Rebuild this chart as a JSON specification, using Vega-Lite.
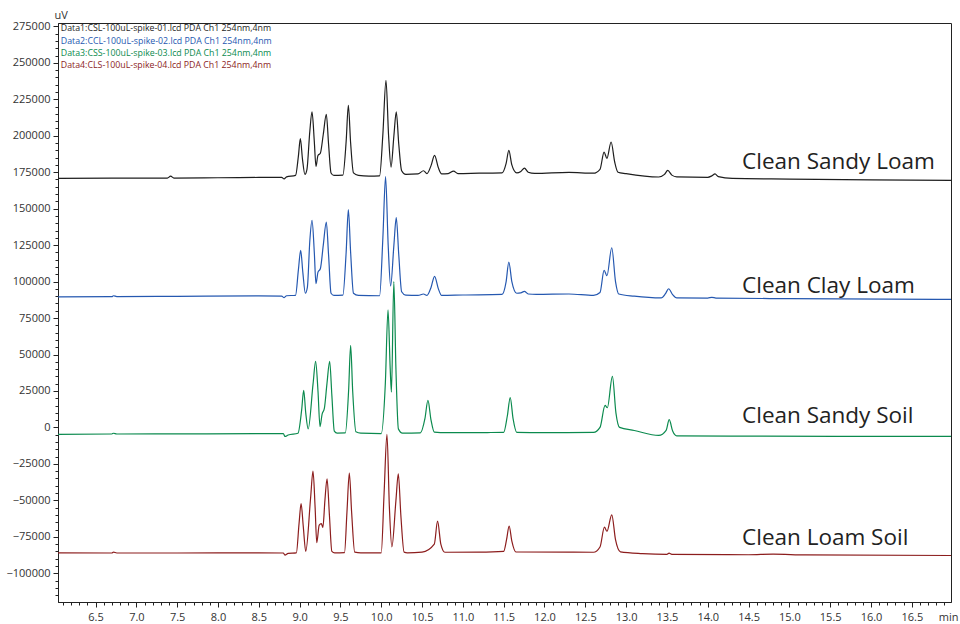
{
"$schema": "https://vega.github.io/schema/vega-lite/v6.json",
"width": 893, "height": 579,
"autosize": {"type": "none"},
"padding": {"left": 58, "top": 23, "right": 9, "bottom": 22},
"background": "white",
"config": {
  "view": {"stroke": "#222", "strokeWidth": 1},
  "font": "Open Sans",
  "axis": {"grid": false, "domainColor": "#222", "tickColor": "#222", "labelColor": "#333", "labelFont": "Open Sans", "labelFontSize": 11, "titleFont": "Open Sans", "titleFontWeight": "normal", "titleFontSize": 11, "titleColor": "#333"}
},
"datasets": {
  "traces": [
{"s":"Data1","t":6.04,"v":170800},{"s":"Data1","t":6.7,"v":170900},{"s":"Data1","t":7.38,"v":171000},{"s":"Data1","t":7.42,"v":172300},{"s":"Data1","t":7.46,"v":171000},{"s":"Data1","t":8.0,"v":171200},{"s":"Data1","t":8.5,"v":171400},{"s":"Data1","t":8.78,"v":171500},{"s":"Data1","t":8.81,"v":170400},{"s":"Data1","t":8.84,"v":171800},{"s":"Data1","t":8.95,"v":172800},{"s":"Data1","t":8.985,"v":186000},{"s":"Data1","t":9.009,"v":198000},{"s":"Data1","t":9.035,"v":184000},{"s":"Data1","t":9.065,"v":173500},{"s":"Data1","t":9.09,"v":177000},{"s":"Data1","t":9.125,"v":203000},{"s":"Data1","t":9.152,"v":216300},{"s":"Data1","t":9.18,"v":196000},{"s":"Data1","t":9.2,"v":179000},{"s":"Data1","t":9.225,"v":186500},{"s":"Data1","t":9.254,"v":188000},{"s":"Data1","t":9.29,"v":201000},{"s":"Data1","t":9.327,"v":214700},{"s":"Data1","t":9.355,"v":194000},{"s":"Data1","t":9.385,"v":174500},{"s":"Data1","t":9.42,"v":172800},{"s":"Data1","t":9.53,"v":173000},{"s":"Data1","t":9.57,"v":196000},{"s":"Data1","t":9.597,"v":220900},{"s":"Data1","t":9.625,"v":195000},{"s":"Data1","t":9.66,"v":174500},{"s":"Data1","t":9.72,"v":172800},{"s":"Data1","t":9.85,"v":172300},{"s":"Data1","t":9.98,"v":172500},{"s":"Data1","t":10.02,"v":201000},{"s":"Data1","t":10.058,"v":238000},{"s":"Data1","t":10.09,"v":200000},{"s":"Data1","t":10.12,"v":178500},{"s":"Data1","t":10.155,"v":200000},{"s":"Data1","t":10.184,"v":216300},{"s":"Data1","t":10.215,"v":194000},{"s":"Data1","t":10.25,"v":176000},{"s":"Data1","t":10.3,"v":173500},{"s":"Data1","t":10.45,"v":173800},{"s":"Data1","t":10.518,"v":176000},{"s":"Data1","t":10.56,"v":174000},{"s":"Data1","t":10.61,"v":179500},{"s":"Data1","t":10.653,"v":186600},{"s":"Data1","t":10.7,"v":178000},{"s":"Data1","t":10.74,"v":173800},{"s":"Data1","t":10.82,"v":174000},{"s":"Data1","t":10.886,"v":175800},{"s":"Data1","t":10.94,"v":174000},{"s":"Data1","t":11.2,"v":174300},{"s":"Data1","t":11.48,"v":174500},{"s":"Data1","t":11.53,"v":181000},{"s":"Data1","t":11.563,"v":190000},{"s":"Data1","t":11.6,"v":180000},{"s":"Data1","t":11.66,"v":174500},{"s":"Data1","t":11.71,"v":175500},{"s":"Data1","t":11.754,"v":177800},{"s":"Data1","t":11.8,"v":175000},{"s":"Data1","t":11.88,"v":174200},{"s":"Data1","t":12.3,"v":174900},{"s":"Data1","t":12.6,"v":174300},{"s":"Data1","t":12.68,"v":177000},{"s":"Data1","t":12.73,"v":188800},{"s":"Data1","t":12.765,"v":184500},{"s":"Data1","t":12.816,"v":195700},{"s":"Data1","t":12.86,"v":182000},{"s":"Data1","t":12.9,"v":175000},{"s":"Data1","t":13.0,"v":174000},{"s":"Data1","t":13.4,"v":171700},{"s":"Data1","t":13.47,"v":173500},{"s":"Data1","t":13.51,"v":176200},{"s":"Data1","t":13.56,"v":173000},{"s":"Data1","t":13.62,"v":171800},{"s":"Data1","t":14.0,"v":171500},{"s":"Data1","t":14.05,"v":172500},{"s":"Data1","t":14.089,"v":173800},{"s":"Data1","t":14.13,"v":172000},{"s":"Data1","t":14.3,"v":170700},{"s":"Data1","t":15.0,"v":170300},{"s":"Data1","t":16.0,"v":169800},{"s":"Data1","t":16.98,"v":169400},
{"s":"Data2","t":6.04,"v":89500},{"s":"Data2","t":6.7,"v":89700},{"s":"Data2","t":6.72,"v":90300},{"s":"Data2","t":6.76,"v":89700},{"s":"Data2","t":7.5,"v":89900},{"s":"Data2","t":8.5,"v":90200},{"s":"Data2","t":8.78,"v":90000},{"s":"Data2","t":8.81,"v":89000},{"s":"Data2","t":8.84,"v":90300},{"s":"Data2","t":8.95,"v":90600},{"s":"Data2","t":8.985,"v":108000},{"s":"Data2","t":9.013,"v":121400},{"s":"Data2","t":9.04,"v":106000},{"s":"Data2","t":9.07,"v":92000},{"s":"Data2","t":9.095,"v":96000},{"s":"Data2","t":9.125,"v":128000},{"s":"Data2","t":9.152,"v":142000},{"s":"Data2","t":9.18,"v":120000},{"s":"Data2","t":9.2,"v":98600},{"s":"Data2","t":9.225,"v":106500},{"s":"Data2","t":9.254,"v":108800},{"s":"Data2","t":9.29,"v":125000},{"s":"Data2","t":9.327,"v":140800},{"s":"Data2","t":9.355,"v":118000},{"s":"Data2","t":9.385,"v":92000},{"s":"Data2","t":9.42,"v":90500},{"s":"Data2","t":9.53,"v":90700},{"s":"Data2","t":9.57,"v":120000},{"s":"Data2","t":9.597,"v":149300},{"s":"Data2","t":9.625,"v":120000},{"s":"Data2","t":9.66,"v":92000},{"s":"Data2","t":9.72,"v":90500},{"s":"Data2","t":9.98,"v":90300},{"s":"Data2","t":10.02,"v":130000},{"s":"Data2","t":10.053,"v":172000},{"s":"Data2","t":10.085,"v":125000},{"s":"Data2","t":10.115,"v":97000},{"s":"Data2","t":10.155,"v":125000},{"s":"Data2","t":10.184,"v":143800},{"s":"Data2","t":10.215,"v":118000},{"s":"Data2","t":10.25,"v":93000},{"s":"Data2","t":10.3,"v":90700},{"s":"Data2","t":10.45,"v":90500},{"s":"Data2","t":10.518,"v":91500},{"s":"Data2","t":10.56,"v":90500},{"s":"Data2","t":10.61,"v":96000},{"s":"Data2","t":10.653,"v":103600},{"s":"Data2","t":10.7,"v":95000},{"s":"Data2","t":10.74,"v":90500},{"s":"Data2","t":11.0,"v":90800},{"s":"Data2","t":11.48,"v":91200},{"s":"Data2","t":11.53,"v":100000},{"s":"Data2","t":11.563,"v":113400},{"s":"Data2","t":11.6,"v":100000},{"s":"Data2","t":11.66,"v":92000},{"s":"Data2","t":11.71,"v":92300},{"s":"Data2","t":11.754,"v":93300},{"s":"Data2","t":11.8,"v":91500},{"s":"Data2","t":11.9,"v":91200},{"s":"Data2","t":12.3,"v":91500},{"s":"Data2","t":12.6,"v":90500},{"s":"Data2","t":12.68,"v":92500},{"s":"Data2","t":12.73,"v":107700},{"s":"Data2","t":12.765,"v":104000},{"s":"Data2","t":12.824,"v":123200},{"s":"Data2","t":12.87,"v":100000},{"s":"Data2","t":12.91,"v":91500},{"s":"Data2","t":13.1,"v":90000},{"s":"Data2","t":13.43,"v":88800},{"s":"Data2","t":13.48,"v":91500},{"s":"Data2","t":13.521,"v":95100},{"s":"Data2","t":13.57,"v":91000},{"s":"Data2","t":13.62,"v":88800},{"s":"Data2","t":14.0,"v":88700},{"s":"Data2","t":14.05,"v":89200},{"s":"Data2","t":14.1,"v":88700},{"s":"Data2","t":15.0,"v":88300},{"s":"Data2","t":16.98,"v":87800},
{"s":"Data3","t":6.04,"v":-4800},{"s":"Data3","t":6.7,"v":-4500},{"s":"Data3","t":6.72,"v":-4000},{"s":"Data3","t":6.76,"v":-4500},{"s":"Data3","t":7.5,"v":-4400},{"s":"Data3","t":8.5,"v":-4300},{"s":"Data3","t":8.8,"v":-4200},{"s":"Data3","t":8.82,"v":-6200},{"s":"Data3","t":8.86,"v":-5200},{"s":"Data3","t":8.98,"v":-4000},{"s":"Data3","t":9.025,"v":12000},{"s":"Data3","t":9.05,"v":25400},{"s":"Data3","t":9.075,"v":10000},{"s":"Data3","t":9.105,"v":-1000},{"s":"Data3","t":9.165,"v":30000},{"s":"Data3","t":9.196,"v":45300},{"s":"Data3","t":9.225,"v":25000},{"s":"Data3","t":9.25,"v":500},{"s":"Data3","t":9.275,"v":9000},{"s":"Data3","t":9.303,"v":13000},{"s":"Data3","t":9.335,"v":30000},{"s":"Data3","t":9.368,"v":45300},{"s":"Data3","t":9.395,"v":22000},{"s":"Data3","t":9.425,"v":-2500},{"s":"Data3","t":9.46,"v":-3900},{"s":"Data3","t":9.56,"v":-3800},{"s":"Data3","t":9.6,"v":25000},{"s":"Data3","t":9.625,"v":56200},{"s":"Data3","t":9.65,"v":25000},{"s":"Data3","t":9.69,"v":-3000},{"s":"Data3","t":9.75,"v":-3900},{"s":"Data3","t":10.0,"v":-4200},{"s":"Data3","t":10.05,"v":30000},{"s":"Data3","t":10.083,"v":80700},{"s":"Data3","t":10.11,"v":40000},{"s":"Data3","t":10.125,"v":24200},{"s":"Data3","t":10.154,"v":100000},{"s":"Data3","t":10.18,"v":40000},{"s":"Data3","t":10.21,"v":-1000},{"s":"Data3","t":10.26,"v":-3900},{"s":"Data3","t":10.48,"v":-3700},{"s":"Data3","t":10.535,"v":6000},{"s":"Data3","t":10.572,"v":18500},{"s":"Data3","t":10.61,"v":5000},{"s":"Data3","t":10.65,"v":-3200},{"s":"Data3","t":10.8,"v":-3600},{"s":"Data3","t":11.3,"v":-3500},{"s":"Data3","t":11.5,"v":-3400},{"s":"Data3","t":11.545,"v":8000},{"s":"Data3","t":11.58,"v":20400},{"s":"Data3","t":11.615,"v":6000},{"s":"Data3","t":11.66,"v":-3400},{"s":"Data3","t":12.0,"v":-3600},{"s":"Data3","t":12.6,"v":-3400},{"s":"Data3","t":12.68,"v":0},{"s":"Data3","t":12.742,"v":15100},{"s":"Data3","t":12.77,"v":13500},{"s":"Data3","t":12.832,"v":35000},{"s":"Data3","t":12.875,"v":10000},{"s":"Data3","t":12.92,"v":0},{"s":"Data3","t":13.1,"v":-2100},{"s":"Data3","t":13.4,"v":-5500},{"s":"Data3","t":13.49,"v":-2000},{"s":"Data3","t":13.528,"v":5300},{"s":"Data3","t":13.57,"v":-2500},{"s":"Data3","t":13.62,"v":-5800},{"s":"Data3","t":14.5,"v":-6000},{"s":"Data3","t":16.98,"v":-6200},
{"s":"Data4","t":6.04,"v":-86000},{"s":"Data4","t":6.7,"v":-86100},{"s":"Data4","t":6.72,"v":-85500},{"s":"Data4","t":6.76,"v":-86100},{"s":"Data4","t":7.5,"v":-86100},{"s":"Data4","t":8.5,"v":-86000},{"s":"Data4","t":8.8,"v":-86100},{"s":"Data4","t":8.82,"v":-87500},{"s":"Data4","t":8.86,"v":-86300},{"s":"Data4","t":8.96,"v":-86000},{"s":"Data4","t":8.993,"v":-66000},{"s":"Data4","t":9.018,"v":-52300},{"s":"Data4","t":9.045,"v":-68000},{"s":"Data4","t":9.075,"v":-85000},{"s":"Data4","t":9.135,"v":-48000},{"s":"Data4","t":9.164,"v":-30000},{"s":"Data4","t":9.19,"v":-55000},{"s":"Data4","t":9.21,"v":-79000},{"s":"Data4","t":9.24,"v":-67000},{"s":"Data4","t":9.266,"v":-66000},{"s":"Data4","t":9.285,"v":-68500},{"s":"Data4","t":9.31,"v":-50000},{"s":"Data4","t":9.336,"v":-35200},{"s":"Data4","t":9.365,"v":-60000},{"s":"Data4","t":9.395,"v":-85000},{"s":"Data4","t":9.43,"v":-86000},{"s":"Data4","t":9.55,"v":-85800},{"s":"Data4","t":9.58,"v":-58000},{"s":"Data4","t":9.609,"v":-31300},{"s":"Data4","t":9.637,"v":-58000},{"s":"Data4","t":9.675,"v":-85500},{"s":"Data4","t":9.75,"v":-86000},{"s":"Data4","t":10.0,"v":-86000},{"s":"Data4","t":10.035,"v":-45000},{"s":"Data4","t":10.07,"v":-4800},{"s":"Data4","t":10.1,"v":-55000},{"s":"Data4","t":10.13,"v":-82000},{"s":"Data4","t":10.18,"v":-50000},{"s":"Data4","t":10.209,"v":-31800},{"s":"Data4","t":10.24,"v":-60000},{"s":"Data4","t":10.28,"v":-85500},{"s":"Data4","t":10.32,"v":-86000},{"s":"Data4","t":10.5,"v":-85500},{"s":"Data4","t":10.65,"v":-80000},{"s":"Data4","t":10.69,"v":-64300},{"s":"Data4","t":10.73,"v":-80000},{"s":"Data4","t":10.78,"v":-85600},{"s":"Data4","t":11.2,"v":-85500},{"s":"Data4","t":11.5,"v":-85000},{"s":"Data4","t":11.535,"v":-77000},{"s":"Data4","t":11.567,"v":-67700},{"s":"Data4","t":11.6,"v":-78000},{"s":"Data4","t":11.65,"v":-85400},{"s":"Data4","t":12.3,"v":-85500},{"s":"Data4","t":12.6,"v":-85600},{"s":"Data4","t":12.68,"v":-82000},{"s":"Data4","t":12.734,"v":-68400},{"s":"Data4","t":12.765,"v":-71200},{"s":"Data4","t":12.824,"v":-59900},{"s":"Data4","t":12.87,"v":-77000},{"s":"Data4","t":12.93,"v":-85300},{"s":"Data4","t":13.2,"v":-86500},{"s":"Data4","t":13.5,"v":-87000},{"s":"Data4","t":13.526,"v":-86200},{"s":"Data4","t":13.56,"v":-87000},{"s":"Data4","t":14.5,"v":-87300},{"s":"Data4","t":14.8,"v":-86900},{"s":"Data4","t":15.2,"v":-87400},{"s":"Data4","t":16.98,"v":-87800}
  ],
  "notes": [
    {"label": "Clean Sandy Loam", "t": 14.42, "v": 177400},
    {"label": "Clean Clay Loam", "t": 14.42, "v": 92000},
    {"label": "Clean Sandy Soil", "t": 14.42, "v": 2900},
    {"label": "Clean Loam Soil", "t": 14.42, "v": -80800}
  ]
},
"layer": [
  {
    "data": {"name": "traces"},
    "mark": {"type": "line", "strokeWidth": 1.2, "interpolate": "monotone"},
    "encoding": {
      "x": {"field": "t", "type": "quantitative",
        "scale": {"domain": [6.04, 16.98], "nice": false, "zero": false},
        "axis": {
          "values": [6.1,6.2,6.3,6.4,6.5,6.6,6.7,6.8,6.9,7.0,7.1,7.2,7.3,7.4,7.5,7.6,7.7,7.8,7.9,8.0,8.1,8.2,8.3,8.4,8.5,8.6,8.7,8.8,8.9,9.0,9.1,9.2,9.3,9.4,9.5,9.6,9.7,9.8,9.9,10.0,10.1,10.2,10.3,10.4,10.5,10.6,10.7,10.8,10.9,11.0,11.1,11.2,11.3,11.4,11.5,11.6,11.7,11.8,11.9,12.0,12.1,12.2,12.3,12.4,12.5,12.6,12.7,12.8,12.9,13.0,13.1,13.2,13.3,13.4,13.5,13.6,13.7,13.8,13.9,14.0,14.1,14.2,14.3,14.4,14.5,14.6,14.7,14.8,14.9,15.0,15.1,15.2,15.3,15.4,15.5,15.6,15.7,15.8,15.9,16.0,16.1,16.2,16.3,16.4,16.5,16.6,16.7,16.8,16.9],
          "tickCount": 1000,
          "labelExpr": "abs(datum.value*2 - round(datum.value*2)) < 0.001 ? format(datum.value, '.1f') : ''",
          "labelOverlap": false, "labelFlush": false, "labelBound": false,
          "tickSize": {"condition": {"test": "abs(datum.value*2 - round(datum.value*2)) < 0.001", "value": 5}, "value": 3},
          "labelPadding": 4,
          "title": "min", "titleX": 900, "titleY": 9, "titleAlign": "right", "titleBaseline": "top", "titleAnchor": "end"
        }
      },
      "y": {"field": "v", "type": "quantitative",
        "scale": {"domain": [-119700, 277300], "nice": false, "zero": false},
        "axis": {
          "values": [-115000,-110000,-105000,-100000,-95000,-90000,-85000,-80000,-75000,-70000,-65000,-60000,-55000,-50000,-45000,-40000,-35000,-30000,-25000,-20000,-15000,-10000,-5000,0,5000,10000,15000,20000,25000,30000,35000,40000,45000,50000,55000,60000,65000,70000,75000,80000,85000,90000,95000,100000,105000,110000,115000,120000,125000,130000,135000,140000,145000,150000,155000,160000,165000,170000,175000,180000,185000,190000,195000,200000,205000,210000,215000,220000,225000,230000,235000,240000,245000,250000,255000,260000,265000,270000,275000],
          "tickCount": 1000,
          "format": "d",
          "labelExpr": "datum.value % 25000 == 0 ? datum.label : ''",
          "labelOverlap": false,
          "tickSize": {"condition": {"test": "datum.value % 25000 == 0", "value": 5}, "value": 3},
          "labelPadding": 3,
          "title": "uV", "titleAngle": 0, "titleX": -4, "titleY": -5, "titleAlign": "left", "titleBaseline": "alphabetic"
        }
      },
      "color": {"field": "s", "type": "nominal",
        "scale": {"domain": ["Data1", "Data2", "Data3", "Data4"], "range": ["#1e1e1e", "#2558b0", "#0b8a4e", "#8c1d1d"]},
        "legend": {
          "title": null, "orient": "none", "legendX": -6, "legendY": 1, "direction": "vertical", "padding": 0,
          "symbolSize": 0, "symbolOpacity": 0, "symbolStrokeWidth": 0, "labelOffset": 0,
          "labelFont": "Open Sans", "labelFontSize": 8.8, "rowPadding": 2.3, "labelLimit": 400,
          "labelExpr": "datum.label == 'Data1' ? 'Data1:CSL-100uL-spike-01.lcd PDA Ch1 254nm,4nm' : datum.label == 'Data2' ? 'Data2:CCL-100uL-spike-02.lcd PDA Ch1 254nm,4nm' : datum.label == 'Data3' ? 'Data3:CSS-100uL-spike-03.lcd PDA Ch1 254nm,4nm' : 'Data4:CLS-100uL-spike-04.lcd PDA Ch1 254nm,4nm'",
          "encode": {"labels": {"update": {"fill": {"scale": "color", "field": "value"}}}}
        }
      }
    }
  },
  {
    "data": {"name": "notes"},
    "mark": {"type": "text", "font": "Open Sans", "fontSize": 22.5, "align": "left", "baseline": "alphabetic", "color": "#222"},
    "encoding": {
      "x": {"field": "t", "type": "quantitative"},
      "y": {"field": "v", "type": "quantitative"},
      "text": {"field": "label"}
    }
  }
]
}
